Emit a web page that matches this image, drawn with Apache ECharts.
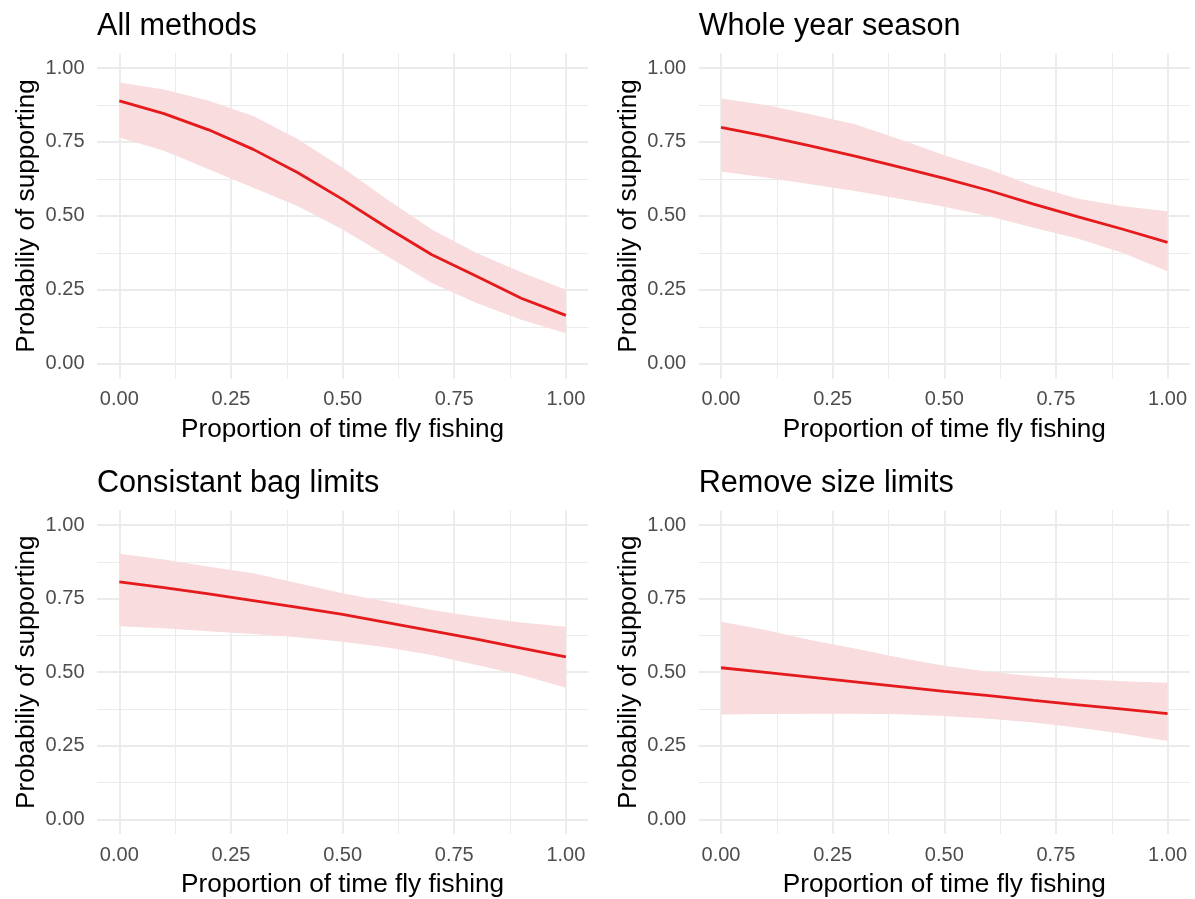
<!DOCTYPE html>
<html>
<head>
<meta charset="utf-8">
<script src="https://cdn.jsdelivr.net/npm/echarts@6/dist/echarts.min.js"></script>
<style>
  html, body { margin: 0; padding: 0; background: #fff; }
  #chart { width: 1195px; height: 899px; }
</style>
</head>
<body>
<div id="chart"></div>
<script>
const FONT = '"Liberation Sans", Arial, sans-serif'

// proportion of time fly fishing, where the model was evaluated
const xs = [0, 0.1, 0.2, 0.3, 0.4, 0.5, 0.6, 0.7, 0.8, 0.9, 1.0]

const panelTitles = ['All methods', 'Whole year season', 'Consistant bag limits', 'Remove size limits']

// All methods
const allFit = [0.889, 0.846, 0.791, 0.725, 0.646, 0.556, 0.460, 0.369, 0.296, 0.222, 0.164]
const allLo  = [0.765, 0.720, 0.658, 0.595, 0.533, 0.454, 0.364, 0.273, 0.206, 0.149, 0.104]
const allHi  = [0.951, 0.927, 0.889, 0.838, 0.759, 0.663, 0.556, 0.454, 0.375, 0.310, 0.251]

// Whole year season
const yearFit = [0.799, 0.770, 0.737, 0.702, 0.665, 0.627, 0.586, 0.540, 0.497, 0.455, 0.411]
const yearLo  = [0.650, 0.630, 0.607, 0.584, 0.558, 0.531, 0.499, 0.460, 0.423, 0.375, 0.313]
const yearHi  = [0.897, 0.875, 0.844, 0.810, 0.759, 0.705, 0.658, 0.601, 0.558, 0.533, 0.516]

// Consistant bag limits
const bagFit = [0.807, 0.787, 0.766, 0.743, 0.720, 0.696, 0.668, 0.640, 0.612, 0.582, 0.552]
const bagLo  = [0.656, 0.649, 0.639, 0.630, 0.619, 0.603, 0.584, 0.558, 0.524, 0.490, 0.447]
const bagHi  = [0.902, 0.883, 0.858, 0.836, 0.802, 0.768, 0.739, 0.711, 0.688, 0.669, 0.654]

// Remove size limits
const sizeFit = [0.515, 0.499, 0.483, 0.467, 0.451, 0.435, 0.420, 0.404, 0.389, 0.374, 0.359]
const sizeLo  = [0.356, 0.358, 0.359, 0.359, 0.357, 0.351, 0.342, 0.329, 0.311, 0.291, 0.266]
const sizeHi  = [0.671, 0.643, 0.609, 0.580, 0.549, 0.522, 0.501, 0.486, 0.476, 0.469, 0.464]

const majorTicks = [0, 0.25, 0.5, 0.75, 1]
const minorTicks = [0.125, 0.375, 0.625, 0.875]

const xName = 'Proportion of time fly fishing'
const yName = 'Probabiliy of supporting'

const panels = [
  { fit: allFit, lo: allLo, hi: allHi },
  { fit: yearFit, lo: yearLo, hi: yearHi },
  { fit: bagFit, lo: bagLo, hi: bagHi },
  { fit: sizeFit, lo: sizeLo, hi: sizeHi },
]

const LINE_COLOR = '#e41a1c'
const BAND_COLOR = '#f9dcdd'
const GRID_COLOR = '#ebebeb'

const lefts = [97, 698.7]
const tops = [53.2, 510.3]
const GW = 491.2
const GH = 325.5

const grids = []
const xAxes = []
const yAxes = []
const series = []
const titles = []

panels.forEach((p, i) => {
  const left = lefts[i % 2]
  const top = tops[Math.floor(i / 2)]
  grids.push({ left, top, width: GW, height: GH, containLabel: false })

  titles.push({
    text: panelTitles[i],
    left: left,
    top: top - 42,
    padding: 0,
    textStyle: { fontFamily: FONT, fontSize: 30.6, fontWeight: 'normal', color: '#000' },
  })

  const common = {
    type: 'value', gridIndex: i, min: -0.05, max: 1.05,
    axisLine: { show: false },
  }

  // major lines + labels
  xAxes.push({
    ...common,
    position: 'bottom',
    name: xName, nameLocation: 'middle', nameGap: 38,
    nameTextStyle: { fontFamily: FONT, fontSize: 26.2, color: '#000' },
    axisTick: { show: false, customValues: majorTicks },
    axisLabel: {
      customValues: majorTicks, margin: 11,
      fontFamily: FONT, fontSize: 20, color: '#4d4d4d',
      formatter: v => v.toFixed(2),
    },
    splitLine: { show: true, lineStyle: { color: GRID_COLOR, width: 1.8 } },
  })
  // minor lines only
  xAxes.push({
    ...common,
    position: 'top',
    axisTick: { show: false, customValues: minorTicks },
    axisLabel: { show: false },
    splitLine: { show: true, lineStyle: { color: GRID_COLOR, width: 1 } },
  })
  yAxes.push({
    ...common,
    position: 'left',
    name: yName, nameLocation: 'middle', nameGap: 57,
    nameTextStyle: { fontFamily: FONT, fontSize: 26.2, color: '#000' },
    axisTick: { show: false, customValues: majorTicks },
    axisLabel: {
      customValues: majorTicks, margin: 12.5,
      fontFamily: FONT, fontSize: 20, color: '#4d4d4d',
      formatter: v => v.toFixed(2),
    },
    splitLine: { show: true, lineStyle: { color: GRID_COLOR, width: 1.8 } },
  })
  yAxes.push({
    ...common,
    position: 'right',
    axisTick: { show: false, customValues: minorTicks },
    axisLabel: { show: false },
    splitLine: { show: true, lineStyle: { color: GRID_COLOR, width: 1 } },
  })

  // confidence ribbon, one polygon through the axis scales
  series.push({
    type: 'custom',
    xAxisIndex: i * 2,
    yAxisIndex: i * 2,
    silent: true,
    z: 2,
    data: xs.map((x, j) => [x, p.lo[j], p.hi[j]]),
    encode: { x: 0, y: [1, 2] },
    renderItem: (params, api) => {
      if (params.dataIndex !== 0) return null
      const upper = xs.map((x, j) => api.coord([x, p.hi[j]]))
      const lower = xs.map((x, j) => api.coord([x, p.lo[j]])).reverse()
      return {
        type: 'polygon',
        shape: { points: upper.concat(lower) },
        style: { fill: BAND_COLOR },
      }
    },
  })

  series.push({
    type: 'line',
    xAxisIndex: i * 2,
    yAxisIndex: i * 2,
    z: 3,
    symbol: 'none',
    silent: true,
    data: xs.map((x, j) => [x, p.fit[j]]),
    lineStyle: { color: LINE_COLOR, width: 2.8 },
  })
})

const chart = echarts.init(document.getElementById('chart'), null, { renderer: 'canvas' })
chart.setOption({
  animation: false,
  backgroundColor: '#fff',
  title: titles,
  grid: grids,
  xAxis: xAxes,
  yAxis: yAxes,
  series,
})
</script>
</body>
</html>
